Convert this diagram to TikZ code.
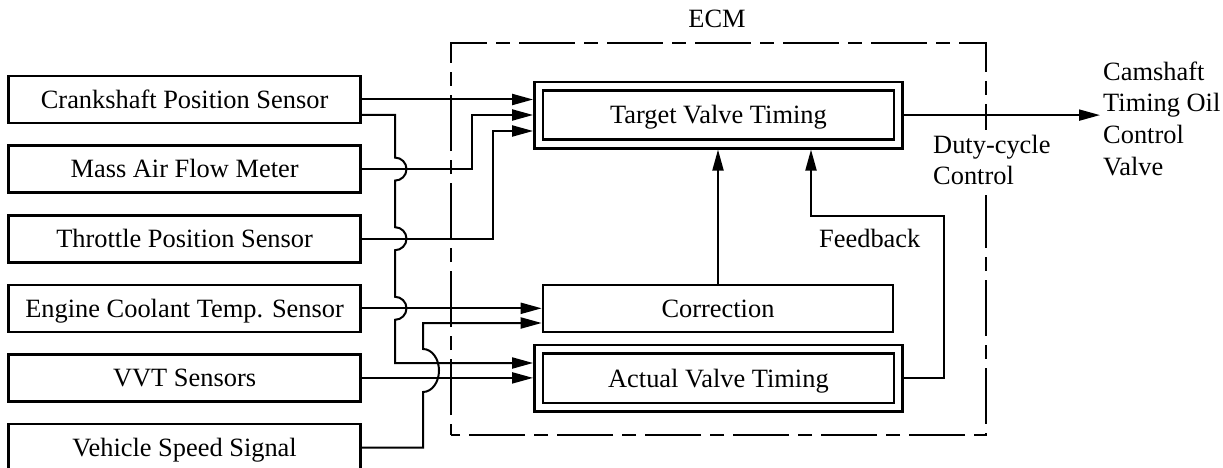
\documentclass[tikz,border=0pt]{standalone}
\usepackage{fontspec}
\setmainfont{Liberation Serif}
\usetikzlibrary{arrows.meta}
\begin{document}
\begin{tikzpicture}[x=1pt,y=-1pt,
  font=\fontsize{26.4pt}{31.7pt}\selectfont,
  box/.style={draw, line width=2.6pt, inner sep=0pt, text height=17.5pt, text depth=0pt},
  sensor/.style={box, minimum width=351.8pt, minimum height=47pt},
  dbox/.style={box, double, double distance=5.9pt, outer sep=5.55pt, minimum width=359.5pt, minimum height=57.8pt},
  sbox/.style={box, minimum width=350pt, minimum height=47pt},
  conn/.style={line width=2pt},
  arr/.style={conn, -{Triangle[length=21pt,width=11pt]}},
  ecmline/.style={line width=2.6pt, dash pattern=on 56pt off 9pt on 14pt off 9pt, dash phase=68pt},
  lbl/.style={inner sep=0pt, align=left},
]
\useasboundingbox (0,0) rectangle (1223,468);

% ECM frame
\draw[ecmline] (451,435) -- (451,43) -- (986,43) -- (986,435) -- cycle;
\node[lbl, anchor=base] (ecmlabel) at (717,28) {ECM};

% sensors
\node[sensor] (crank) at (184.6,99.5)  {Crankshaft Position Sensor};
\node[sensor] (maf)   at (184.6,169.1) {Mass Air Flow Meter};
\node[sensor] (tps)   at (184.6,238.7) {Throttle Position Sensor};
\node[sensor] (ect)   at (184.6,308.3) {Engine Coolant Temp. Sensor};
\node[sensor] (vvt)   at (184.6,377.9) {VVT Sensors};
\node[sensor] (vss)   at (184.6,447.5) {Vehicle Speed Signal};

% ECM blocks
\node[dbox] (target) at (718.4,115.1) {Target Valve Timing};
\node[sbox] (corr)   at (718,308.5)   {Correction};
\node[dbox] (actual) at (718.4,378.3) {Actual Valve Timing};

% bend points
\coordinate (c1) at (395,115);
\coordinate (c2) at (395,363);
\coordinate (m2) at (472,115);
\coordinate (t2) at (493,131);
\coordinate (v2) at (423,323);
\coordinate (f2) at (944,216);
\coordinate (f3) at (811,216);

% connectors into Target Valve Timing
\draw[arr] (crank.east) -- (crank.east -| target.west);
\draw[arr] (maf.east) -- (maf.east -| m2) -- (m2) -- (m2 -| target.west);
\draw[arr] (tps.east) -- (tps.east -| t2) -- (t2) -- (t2 -| target.west);

% crankshaft second line with jumps, to Actual Valve Timing
\draw[arr] (crank.east |- c1) -- (c1)
  -- (395,157.6) arc[start angle=90, end angle=-90, radius=11.5pt]
  -- (395,227.2) arc[start angle=90, end angle=-90, radius=11.5pt]
  -- (395,296.8) arc[start angle=90, end angle=-90, radius=11.5pt]
  -- (c2) -- (c2 -| actual.west);

% into Correction
\draw[arr] (ect.east) -- (ect.east -| corr.west);
\draw[arr] (vss.east) -- (vss.east -| v2)
  -- (423,392) arc[start angle=-90, end angle=90, x radius=16pt, y radius=21.5pt]
  -- (v2) -- (v2 -| corr.west);

% into Actual Valve Timing
\draw[arr] (vvt.east) -- (vvt.east -| actual.west);

% correction up to target
\draw[arr] (corr.north) -- (corr.north |- target.south);

% feedback
\draw[arr] (actual.east) -- (actual.east -| f2) -- (f2) -- (f3) -- (f3 |- target.south);
\node[lbl, anchor=base west] (fb) at (819,247) {Feedback};

% output
\node[lbl, anchor=north west] (cam) at (1103,57.8)
  {\strut Camshaft\\\strut Timing Oil\\\strut Control\\\strut Valve};
\draw[arr, shorten >=3pt] (target.east) -- (target.east -| cam.west);

\node[anchor=north west, inner sep=1pt, fill=white, align=left] (duty) at (932,129.8)
  {\strut Duty-cycle\\\strut Control};
\end{tikzpicture}
\end{document}
